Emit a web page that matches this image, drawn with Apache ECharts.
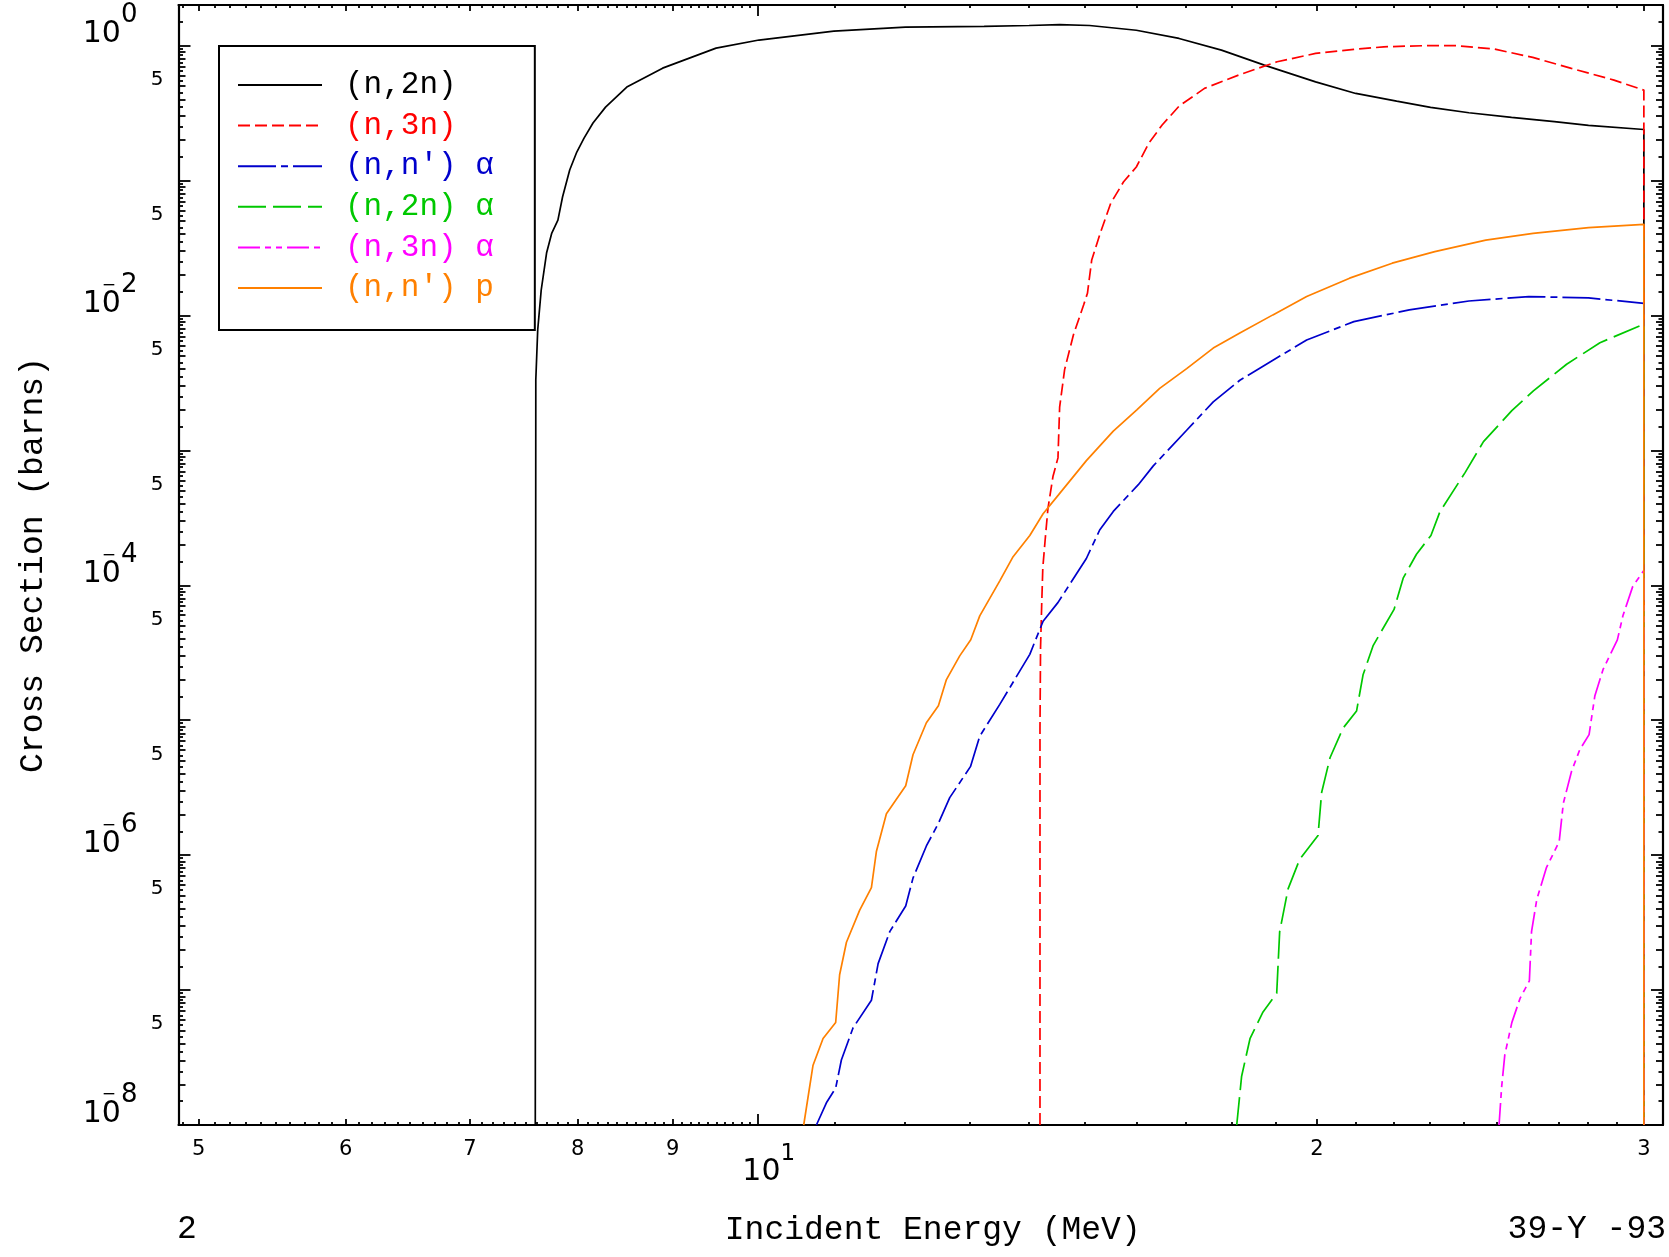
<!DOCTYPE html>
<html>
<head>
<meta charset="utf-8">
<script src="https://cdn.jsdelivr.net/npm/echarts@6/dist/echarts.min.js"></script>
<style>
html,body{margin:0;padding:0;background:#fff;}
#chart{width:1669px;height:1257px;}
</style>
</head>
<body>
<div id="chart"></div>
<script>
// ---------------- data ----------------
const seriesNames = ['(n,2n)', '(n,3n)', "(n,n') \u03b1", '(n,2n) \u03b1', '(n,3n) \u03b1', "(n,n') p"];

const E_n2n = [7.59, 7.595, 7.613, 7.646, 7.697, 7.747, 7.806, 7.851, 7.921, 7.991, 8.063, 8.153, 8.281, 8.502, 8.888, 9.497, 10.016, 10.99, 12.01, 13.24, 14.0, 14.54, 15.09, 15.99, 16.86, 17.77, 18.74, 19.97, 20.99, 22.08, 23.03, 24.15, 25.46, 26.85, 28.01, 30, 30];
const XS_n2n = [1e-8, 3.33e-3, 7.8e-3, 0.0154, 0.029, 0.0408, 0.0509, 0.0755, 0.1197, 0.1626, 0.2063, 0.2667, 0.350, 0.493, 0.681, 0.958, 1.10, 1.28, 1.37, 1.39, 1.41, 1.43, 1.41, 1.30, 1.13, 0.926, 0.717, 0.539, 0.442, 0.388, 0.349, 0.318, 0.294, 0.273, 0.256, 0.239, 1e-8];

const E_n3n = [14.19, 14.19, 14.20, 14.22, 14.24, 14.28, 14.33, 14.42, 14.51, 14.54, 14.63, 14.79, 14.98, 15.05, 15.13, 15.29, 15.49, 15.74, 15.99, 16.24, 16.51, 16.86, 17.40, 18.15, 19.04, 19.97, 20.94, 21.73, 22.91, 23.77, 24.93, 26.14, 27.42, 28.91, 30, 30];
const XS_n3n = [1e-8, 8.7e-6, 3.44e-5, 7.13e-5, 1.35e-4, 2.14e-4, 3.69e-4, 6.4e-4, 8.8e-4, 2.09e-3, 3.97e-3, 7.17e-3, 0.012, 0.0146, 0.0258, 0.0406, 0.0678, 0.098, 0.126, 0.189, 0.258, 0.356, 0.482, 0.605, 0.759, 0.875, 0.937, 0.980, 1.0, 1.0, 0.942, 0.818, 0.678, 0.555, 0.468, 1e-8];

const E_nna = [10.755, 10.889, 11.015, 11.093, 11.254, 11.514, 11.610, 11.779, 12.014, 12.123, 12.326, 12.511, 12.688, 13.018, 13.169, 13.500, 14.012, 14.245, 14.512, 15.03, 15.28, 15.54, 16.03, 16.33, 17.02, 17.59, 18.18, 19.75, 20.94, 22.43, 24.15, 26.01, 28.01, 30, 30];
const XS_nna = [1e-8, 1.46e-8, 1.88e-8, 3.03e-8, 5.24e-8, 8.41e-8, 1.57e-7, 2.71e-7, 4.2e-7, 6.76e-7, 1.17e-6, 1.72e-6, 2.67e-6, 4.53e-6, 7.61e-6, 1.31e-5, 3.08e-5, 5.42e-5, 7.47e-5, 1.58e-4, 2.57e-4, 3.53e-4, 5.57e-4, 7.68e-4, 1.41e-3, 2.29e-3, 3.31e-3, 6.58e-3, 9.0e-3, 0.011, 0.0128, 0.0138, 0.0135, 0.0123, 1e-8];

const E_n2na = [18.11, 18.22, 18.41, 18.71, 19.03, 19.10, 19.30, 19.58, 20.03, 20.12, 20.33, 20.66, 21.01, 21.18, 21.45, 22.01, 22.26, 22.63, 23.04, 23.30, 24.04, 24.59, 25.47, 26.16, 27.26, 28.41, 30, 30];
const XS_n2na = [1e-8, 2.30e-8, 4.36e-8, 6.89e-8, 9.48e-8, 2.71e-7, 5.62e-7, 9.31e-7, 1.40e-6, 2.91e-6, 5.27e-6, 8.73e-6, 1.17e-5, 2.17e-5, 3.59e-5, 6.63e-5, 1.13e-4, 1.70e-4, 2.34e-4, 3.52e-4, 6.87e-4, 1.16e-3, 1.97e-3, 2.76e-3, 4.35e-3, 6.28e-3, 8.63e-3, 1e-8];

const E_n3na = [25.07, 25.15, 25.25, 25.47, 25.73, 26.03, 26.10, 26.27, 26.59, 27.01, 27.15, 27.43, 27.71, 28.03, 28.23, 28.52, 29.03, 29.23, 29.59, 30, 30];
const XS_n3na = [1e-8, 1.91e-8, 3.32e-8, 5.74e-8, 8.67e-8, 1.17e-7, 2.71e-7, 4.69e-7, 8.12e-7, 1.26e-6, 2.43e-6, 4.2e-6, 6.06e-6, 7.82e-6, 1.51e-5, 2.38e-5, 3.94e-5, 5.94e-5, 9.82e-5, 1.29e-4, 1e-8];

const E_nnp = [10.587, 10.709, 10.844, 11.015, 11.069, 11.163, 11.348, 11.514, 11.586, 11.730, 12.014, 12.123, 12.326, 12.511, 12.636, 12.846, 13.023, 13.169, 13.500, 13.725, 14.012, 14.245, 14.512, 15.03, 15.54, 16.00, 16.46, 17.02, 17.59, 18.18, 18.94, 19.75, 20.83, 21.96, 23.15, 24.66, 26.15, 28.01, 30, 30];
const XS_nnp = [1e-8, 2.76e-8, 4.38e-8, 5.75e-8, 1.30e-7, 2.26e-7, 3.91e-7, 5.74e-7, 1.07e-6, 2.03e-6, 3.27e-6, 5.55e-6, 9.58e-6, 1.28e-5, 2.0e-5, 3.0e-5, 3.95e-5, 5.94e-5, 1.08e-4, 1.63e-4, 2.34e-4, 3.39e-4, 4.64e-4, 8.4e-4, 1.39e-3, 2.0e-3, 2.88e-3, 4.04e-3, 5.73e-3, 7.40e-3, 0.0101, 0.0138, 0.0189, 0.0244, 0.0297, 0.0362, 0.0406, 0.0447, 0.0474, 1e-8];

// tick label values
const xLabelValues = [5, 6, 7, 8, 9, 10, 20, 30];
const xLabelTexts  = ['5', '6', '7', '8', '9', '10', '2', '3'];
const yDecadeLabelValues = [1, 1e-2, 1e-4, 1e-6, 1e-8];
const yFiveLabelValues = [5e-1, 5e-2, 5e-3, 5e-4, 5e-5, 5e-6, 5e-7, 5e-8];

// ---------------- styles ----------------
const seriesColors = ['#000000', '#ff0000', '#0000cc', '#00c800', '#ff00ff', '#ff8000'];
const seriesDash = ['solid', [12, 5], [38, 5, 7, 5], [28, 7], [22, 5, 6, 5, 6, 5], 'solid'];

const X_MIN = 4.877, X_MAX = 30.72, Y_MIN = 1e-8, Y_MAX = 2;

// axis tick positions
const xMajorTicks = [10];
const xMidTicks = [5, 6, 7, 8, 9, 20, 30];
const xMinorTicks = [];
for (let k = 49; k < 100; k++) { if (k % 10 !== 0) xMinorTicks.push(k / 10); }
for (let k = 11; k < 30; k++) { if (k !== 20) xMinorTicks.push(k); }
const yMajorTicks = [], yIntTicks = [], yHalfTicks = [];
for (let e = -8; e <= 0; e++) {
  yMajorTicks.push(Number('1e' + e));
  for (let k = 2; k <= 9; k++) { const v = Number(k + 'e' + e); if (v <= Y_MAX) yIntTicks.push(v); }
  for (let k = 1.5; k < 10; k += 1) { const v = Number(k + 'e' + e); if (v <= Y_MAX) yHalfTicks.push(v); }
}

const allE = [E_n2n, E_n3n, E_nna, E_n2na, E_n3na, E_nnp];
const allS = [XS_n2n, XS_n3n, XS_nna, XS_n2na, XS_n3na, XS_nnp];

const NUM_FONT = 'DejaVu Sans';
const TXT_FONT = 'Liberation Mono';

function xAxisDef(pos, ticks, len, extra) {
  return Object.assign({
    type: 'log', logBase: 10, min: X_MIN, max: X_MAX, position: pos,
    gridIndex: 0,
    splitLine: { show: false },
    axisLine: { show: false },
    axisLabel: { show: false },
    axisTick: { show: true, inside: true, length: len, customValues: ticks, lineStyle: { color: '#000', width: 1.8 } }
  }, extra || {});
}
function yAxisDef(pos, ticks, len, extra) {
  return Object.assign({
    type: 'log', logBase: 10, min: Y_MIN, max: Y_MAX, position: pos,
    gridIndex: 0,
    splitLine: { show: false },
    axisLine: { show: false },
    axisLabel: { show: false },
    axisTick: { show: true, inside: true, length: len, customValues: ticks, lineStyle: { color: '#000', width: 1.8 } }
  }, extra || {});
}
const boxLine = { show: true, lineStyle: { color: '#000', width: 2.2 } };

const xAxes = [
  xAxisDef('bottom', xMajorTicks, 11, {
    axisLine: boxLine,
    name: 'Incident Energy (MeV)',
    nameLocation: 'middle',
    nameGap: 88,
    nameTextStyle: { fontFamily: TXT_FONT, fontSize: 33, color: '#000', lineHeight: 34, padding: [0, 0, 0, 24] },
    axisLabel: {
      show: true, customValues: xLabelValues, margin: 13,
      formatter: function (v) {
        let idx = 0, best = Infinity;
        xLabelValues.forEach((xv, i) => { const d = Math.abs(xv - v); if (d < best) { best = d; idx = i; } });
        if (xLabelValues[idx] === 10) return '{b|10}{s|1}';
        return '{n|' + xLabelTexts[idx] + '}';
      },
      rich: {
        n: { fontFamily: NUM_FONT, fontSize: 21, lineHeight: 24, color: '#000', align: 'left' },
        b: { fontFamily: NUM_FONT, fontSize: 30, height: 22, lineHeight: 45, verticalAlign: 'bottom', padding: [0, 0, 0, 22], color: '#000', align: 'left' },
        s: { fontFamily: NUM_FONT, fontSize: 23, height: 32, lineHeight: 32, verticalAlign: 'top', color: '#000', align: 'left' }
      }
    }
  }),
  xAxisDef('bottom', xMidTicks, 6),
  xAxisDef('bottom', xMinorTicks, 3),
  xAxisDef('top', xMajorTicks, 11, { axisLine: boxLine }),
  xAxisDef('top', xMidTicks, 6),
  xAxisDef('top', xMinorTicks, 3)
];

const yAxes = [
  yAxisDef('left', yMajorTicks, 12, {
    axisLine: boxLine,
    name: 'Cross Section (barns)',
    nameLocation: 'middle',
    nameGap: 128,
    nameTextStyle: { fontFamily: TXT_FONT, fontSize: 33, color: '#000', lineHeight: 34 },
    axisLabel: {
      show: true, customValues: yDecadeLabelValues, margin: 41, verticalAlign: 'bottom',
      formatter: function (v) {
        const e = Math.round(Math.log10(v));
        if (e === 0) return '{b|10}{s|0}';
        return '{b|1}{m|\u2212}{b|0}{s|' + (-e) + '}';
      },
      rich: {
        b: { fontFamily: NUM_FONT, fontSize: 30, height: 22, lineHeight: 40, verticalAlign: 'bottom', color: '#000', align: 'left' },
        m: { fontFamily: NUM_FONT, fontSize: 17, width: 0, height: 20, lineHeight: 20, verticalAlign: 'top', color: '#000', align: 'left' },
        s: { fontFamily: NUM_FONT, fontSize: 26, height: 20, lineHeight: 20, verticalAlign: 'top', color: '#000', align: 'left' }
      }
    }
  }),
  yAxisDef('left', yIntTicks, 7, {
    axisLabel: {
      show: true, customValues: yFiveLabelValues, margin: 15, verticalAlign: 'bottom',
      lineHeight: 13, fontFamily: NUM_FONT, fontSize: 20, color: '#000',
      formatter: function () { return '5'; }
    }
  }),
  yAxisDef('left', yHalfTicks, 4.5),
  yAxisDef('right', yMajorTicks, 12, { axisLine: boxLine }),
  yAxisDef('right', yIntTicks, 7),
  yAxisDef('right', yHalfTicks, 4.5)
];

const series = seriesNames.map((name, i) => ({
  name: name,
  type: 'line',
  xAxisIndex: 0,
  yAxisIndex: 0,
  data: allE[i].map((e, j) => [e, allS[i][j]]),
  showSymbol: false,
  symbol: 'none',
  clip: true,
  animation: false,
  itemStyle: { color: seriesColors[i] },
  lineStyle: { color: seriesColors[i], width: 1.7, type: seriesDash[i] },
  z: 2 + i
}));

const chart = echarts.init(document.getElementById('chart'), null, { renderer: 'canvas' });
chart.setOption({
  backgroundColor: '#ffffff',
  animation: false,
  grid: { left: 178.5, right: 6, top: 5, bottom: 132, containLabel: false },
  xAxis: xAxes,
  yAxis: yAxes,
  legend: {
    orient: 'vertical',
    left: 219, top: 46,
    padding: [22, 41, 25, 18],
    itemWidth: 84, itemHeight: 14, itemGap: 6.6,
    borderColor: '#000', borderWidth: 2,
    backgroundColor: '#fff',
    selectedMode: false,
    itemStyle: { opacity: 0, borderWidth: 0 },
    textStyle: { fontFamily: TXT_FONT, fontSize: 31, lineHeight: 34, padding: [0, 0, 0, 18] },
    data: seriesNames.map((n, i) => ({ name: n, textStyle: { color: seriesColors[i] } }))
  },
  graphic: [
    { type: 'text', x: 177, y: 1229, style: { text: '2', fill: '#000', fontFamily: TXT_FONT, fontSize: 33, verticalAlign: 'middle', align: 'left' } },
    { type: 'text', x: 1666, y: 1229, style: { text: '39-Y -93', fill: '#000', fontFamily: TXT_FONT, fontSize: 33, verticalAlign: 'middle', align: 'right' } }
  ],
  series: series
});
</script>
</body>
</html>
